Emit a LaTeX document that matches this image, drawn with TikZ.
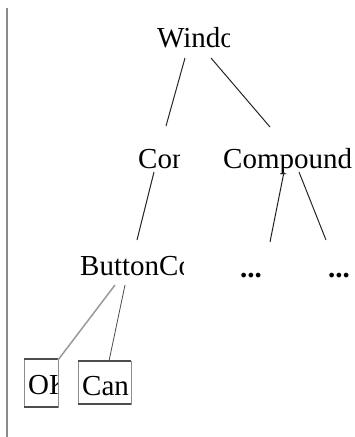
\documentclass[tikz,border=0pt]{standalone}
\usepackage{fontspec}
\setmainfont{Liberation Serif}
\usetikzlibrary{calc}
\tikzset{
	lbl/.style={inner sep=0pt, anchor=base west, font=\fontsize{29}{34}\selectfont},
	dots/.style={lbl, font=\fontsize{29}{34}\selectfont\bfseries},
	edge/.style={line width=1pt, color=black!85},
	btnbox/.style={line width=1pt, color=black!45},
	btnrim/.style={line width=2pt, color=black!70}
}
\begin{document}
\begin{tikzpicture}[x=1pt, y=-1pt]
		%%%%% START %%%%%
		
		\useasboundingbox (0, 0) rectangle (354, 437);
		
		\draw[line width=2pt, color=black!45] (7, 8) -- (7, 437);
		
		\begin{scope}
			\clip (150, 15) rectangle (229, 60);
			\node[lbl] (win) at (157, 47) {Windo};
		\end{scope}
		\begin{scope}
			\clip (130, 140) rectangle (179, 180);
			\node[lbl] (cor) at (138, 168) {Con};
		\end{scope}
		\node[lbl] (comp) at (223, 168) {Compound};
		\begin{scope}
			\clip (70, 245) rectangle (183, 285);
			\node[lbl] (btn) at (80, 275) {ButtonCo};
		\end{scope}
		\node[dots] (more1) at (240, 277) {...};
		\node[dots] (more2) at (328, 277) {...};
		
		\coordinate (ok) at (24, 359);
		\coordinate (can) at (78, 361);
		\begin{scope}
			\clip (24, 359) rectangle (58, 407);
			\node[lbl] (oktxt) at (28, 394) {OK};
		\end{scope}
		\node[lbl] (cantxt) at (82, 395) {Can};
		
		\draw[btnbox] (24, 359) rectangle (58, 407);
		\draw[btnrim] (24, 359) -- (58, 359) (24, 407) -- (58, 407);
		\draw[btnbox] (78, 361) rectangle (131, 404);
		\draw[btnrim] (78, 361) -- (131, 361) (78, 404) -- (131, 404);
		
		\draw[edge] ($(win.base west)+(28, 11)$) -- ($(cor.base west)+(28, -42)$);
		\draw[edge] ($(win.base west)+(54, 11)$) -- ($(comp.base west)+(47, -41)$);
		\draw[edge] ($(cor.base west)+(16, 4)$) -- ($(btn.base west)+(57, -35)$);
		\draw[edge] ($(comp.base west)+(61, 4)$) -- ($(more1.base west)+(30, -35)$);
		\draw[edge] ($(comp.base west)+(76, 4)$) -- ($(more2.base west)+(-2, -37)$);
		\draw[line width=1.5pt, color=black!40] ($(btn.base west)+(35, 10)$) -- (58, 360);
		\draw[line width=0.8pt, color=black!70] ($(btn.base west)+(45, 10)$) -- ($(can)+(31, 0)$);
		
		%%%%% END %%%%%
	\end{tikzpicture}
\end{document}
